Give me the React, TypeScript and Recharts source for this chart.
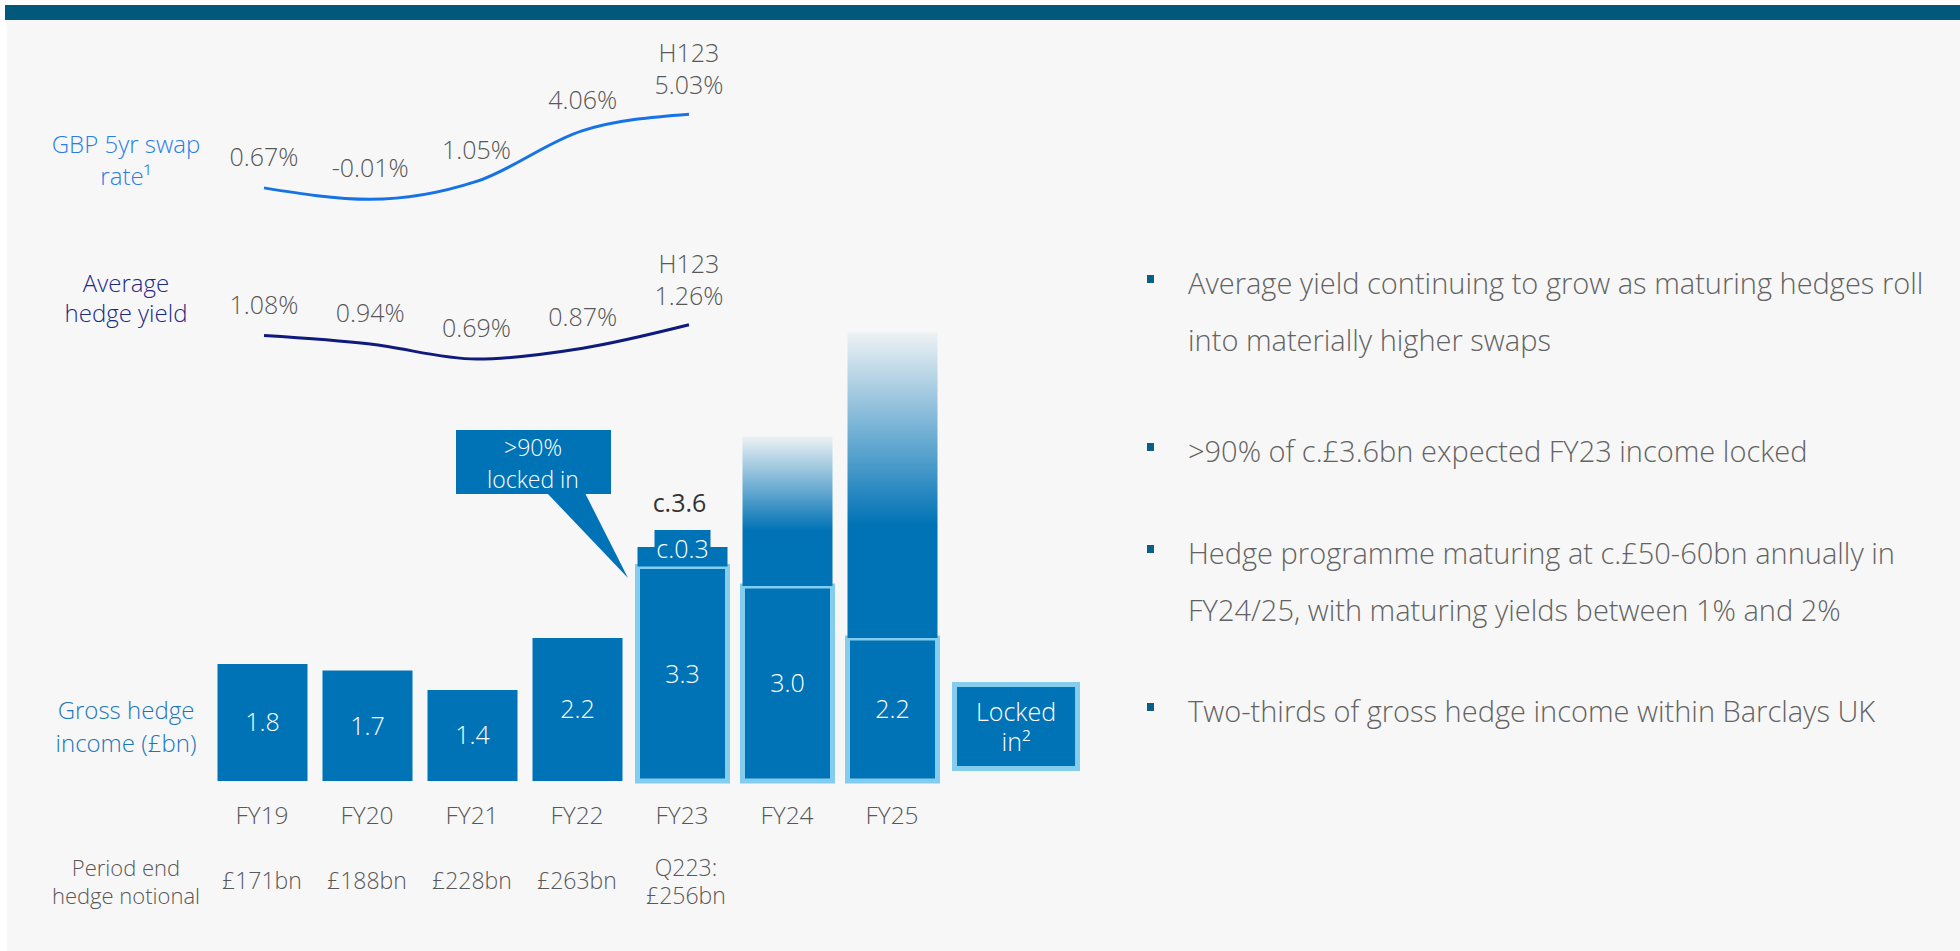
import React from "react"
import {
  ComposedChart,
  Bar,
  Line,
  XAxis,
  YAxis,
  Cell,
  LabelList,
} from "recharts"

const categories = ["FY19", "FY20", "FY21", "FY22", "FY23", "FY24", "FY25"]
const swapRate = [0.67, -0.01, 1.05, 4.06, 5.03, null, null]
const hedgeYield = [1.08, 0.94, 0.69, 0.87, 1.26, null, null]
const lockedIncome = [1.8, 1.7, 1.4, 2.2, 3.3, 3.0, 2.2]
const upsideIncome = [null, null, null, null, 0.3, 2.3, 4.7]
const notional = [["£171bn"], ["£188bn"], ["£228bn"], ["£263bn"], ["Q223:", "£256bn"], [], []]
const bullets = [
  ["Average yield continuing to grow as maturing hedges roll", "into materially higher swaps"],
  [">90% of c.£3.6bn expected FY23 income locked"],
  ["Hedge programme maturing at c.£50-60bn annually in", "FY24/25, with maturing yields between 1% and 2%"],
  ["Two-thirds of gross hedge income within Barclays UK"],
]

const data = categories.map((c, i) => ({
  name: c,
  swap: swapRate[i],
  yld: hedgeYield[i],
  locked: lockedIncome[i],
  upside: upsideIncome[i],
}))

const font = "'Open Sans', Lato, sans-serif"
const blue = "#0073b6"
const lightBlue = "#84cdee"
const grey = "#585858"

function CategoryTick(props: any) {
  const { x, y, payload } = props
  const i = categories.indexOf(payload.value)
  const lines = notional[i] || []
  return (
    <g fontFamily={font} fontWeight={300} fill={grey}>
      <text x={x} y={y + 33} textAnchor="middle" dominantBaseline="central" fontSize={24.5}>
        {payload.value}
      </text>
      {lines.length === 1 && (
        <text x={x} y={y + 99} textAnchor="middle" dominantBaseline="central" fontSize={23}>
          {lines[0]}
        </text>
      )}
      {lines.length === 2 &&
        lines.map((l, k) => (
          <text key={k} x={x + 4} y={y + 86 + k * 28} textAnchor="middle" dominantBaseline="central" fontSize={23}>
            {l}
          </text>
        ))}
    </g>
  )
}

function pointLabel(props: any) {
  const { x, y, value, index } = props
  if (value == null) return null
  const last = index === 4
  return (
    <g fontFamily={font} fontWeight={300} fill={grey} fontSize={25}>
      {last && (
        <text x={x} y={y - 62} textAnchor="middle" dominantBaseline="central">H123</text>
      )}
      <text x={x} y={y - (last ? 30 : 32)} textAnchor="middle" dominantBaseline="central">
        {Number(value).toFixed(2)}%
      </text>
    </g>
  )
}

function upsideLabel(props: any) {
  const vb = props.viewBox && props.viewBox.width != null ? props.viewBox : props
  const { x, y, width } = vb
  const raw = props.value
  const val = Array.isArray(raw) ? raw[1] - raw[0] : Number(raw)
  if (!(Math.abs(val - upsideIncome[4]!) < 1e-6)) return null
  const cx = x + width / 2
  return (
    <g fontFamily={font} fontSize={25}>
      <rect x={cx - 28} y={y - 17} width={56} height={18} fill={blue} />
      <text x={cx} y={y + 1} textAnchor="middle" dominantBaseline="central" fill="#fff" fontWeight={300}>
        c.0.3
      </text>
      <text x={cx - 3} y={y - 45} textAnchor="middle" dominantBaseline="central" fill="#333" fontWeight={400}>
        c.3.6
      </text>
    </g>
  )
}

function SideLabel({ y, lines, color, size = 24, gap = 32 }: { y: number; lines: string[]; color: string; size?: number; gap?: number }) {
  return (
    <g fontFamily={font} fontWeight={300} fill={color} fontSize={size}>
      {lines.map((l, k) => (
        <text key={k} x={126} y={y + k * gap} textAnchor="middle" dominantBaseline="central">
          {l}
        </text>
      ))}
    </g>
  )
}

export default function App() {
  const bulletY = [282, 450, 552, 710]
  return (
    <div style={{ position: "absolute", left: 0, top: 0, width: 1960, height: 951, background: "#fff", overflow: "hidden" }}>
      <div style={{ position: "absolute", left: 7, top: 5, right: 0, bottom: 0, background: "#f7f7f7" }} />
      <div style={{ position: "absolute", left: 5, top: 5, right: 0, height: 15, background: "#02587a" }} />

      <div style={{ position: "absolute", left: 0, top: 0 }}>
        <ComposedChart
          width={1000}
          height={911}
          data={data}
          margin={{ top: 40, right: 45.4, left: 209.5, bottom: 0 }}
          barSize={90}
        >
          <defs>
            <linearGradient id="upsideFade" x1="0" y1="0" x2="0" y2="1">
              <stop offset="0" stopColor={blue} stopOpacity={0.04} />
              <stop offset="0.63" stopColor={blue} stopOpacity={1} />
              <stop offset="1" stopColor={blue} stopOpacity={1} />
            </linearGradient>
          </defs>
          <XAxis
            xAxisId="bar"
            dataKey="name"
            height={130}
            axisLine={false}
            tickLine={false}
            tickSize={0}
            tickMargin={0}
            interval={0}
            padding={{ left: 0, right: 10.1 }}
            tick={<CategoryTick />}
          />
          <XAxis xAxisId="line" dataKey="name" hide padding={{ left: 1.4, right: 0 }} />
          <YAxis yAxisId="bar" hide type="number" domain={[0, 11.4]} />
          <YAxis yAxisId="swap" hide type="number" domain={[-34.43, 9.42]} />
          <YAxis yAxisId="yld" hide type="number" domain={[-6.343, 6.007]} />

          <Bar xAxisId="bar" yAxisId="bar" dataKey="locked" stackId="inc" isAnimationActive={false}>
            {lockedIncome.map((_, i) => (
              <Cell
                key={i}
                fill={blue}
                stroke={i >= 4 ? lightBlue : "none"}
                strokeWidth={i >= 4 ? 5 : 0}
              />
            ))}
            <LabelList
              dataKey="locked"
              position="center"
              fill="#fff"
              fontSize={25}
              fontFamily={font}
              fontWeight={300}
              formatter={(v: any) => Number(v).toFixed(1)}
            />
          </Bar>
          <Bar xAxisId="bar" yAxisId="bar" dataKey="upside" stackId="inc" isAnimationActive={false}>
            {upsideIncome.map((_, i) => (
              <Cell key={i} fill={i >= 5 ? "url(#upsideFade)" : blue} />
            ))}
            <LabelList dataKey="upside" content={upsideLabel} />
          </Bar>

          <Line
            xAxisId="line"
            yAxisId="swap"
            dataKey="swap"
            type="monotone"
            stroke="#1673e6"
            strokeWidth={3}
            dot={false}
            activeDot={false}
            isAnimationActive={false}
          >
            <LabelList dataKey="swap" content={pointLabel} />
          </Line>
          <Line
            xAxisId="line"
            yAxisId="yld"
            dataKey="yld"
            type="monotone"
            stroke="#0e1a7c"
            strokeWidth={3}
            dot={false}
            activeDot={false}
            isAnimationActive={false}
          >
            <LabelList dataKey="yld" content={pointLabel} />
          </Line>
        </ComposedChart>
      </div>

      <svg width={1960} height={951} style={{ position: "absolute", left: 0, top: 0, pointerEvents: "none" }}>
        <SideLabel y={143} lines={["GBP 5yr swap", "rate¹"]} color="#2b7de6" />
        <SideLabel y={282} lines={["Average", "hedge yield"]} color="#1c2a86" gap={30} />
        <SideLabel y={709} lines={["Gross hedge", "income (£bn)"]} color="#1b76bd" gap={33} />
        <SideLabel y={867} lines={["Period end", "hedge notional"]} color={grey} size={22} gap={28} />

        {/* callout */}
        <rect x={456} y={430} width={155} height={64} fill={blue} />
        <polygon points="547,493 585,493 628,578" fill={blue} />
        <g fontFamily={font} fontWeight={300} fill="#fff" fontSize={23} textAnchor="middle">
          <text x={533} y={447} dominantBaseline="central">&gt;90%</text>
          <text x={533} y={479} dominantBaseline="central">locked in</text>
        </g>

        {/* locked-in key */}
        <rect x={954.5} y={684.5} width={123} height={84} fill={blue} stroke={lightBlue} strokeWidth={5} />
        <g fontFamily={font} fontWeight={300} fill="#fff" fontSize={25} textAnchor="middle">
          <text x={1016} y={711} dominantBaseline="central">Locked</text>
          <text x={1016} y={741} dominantBaseline="central">in²</text>
        </g>

        {/* bullet commentary */}
        {bullets.map((b, i) => (
          <g key={i}>
            <rect x={1147} y={bulletY[i] - 7} width={7} height={8} fill="#0b5f86" />
            {b.map((line, k) => (
              <text
                key={k}
                x={1188}
                y={bulletY[i] + k * 57}
                dominantBaseline="central"
                fontFamily={font}
                fontWeight={300}
                fontSize={29}
                fill="#636363"
              >
                {line}
              </text>
            ))}
          </g>
        ))}
      </svg>
    </div>
  )
}
